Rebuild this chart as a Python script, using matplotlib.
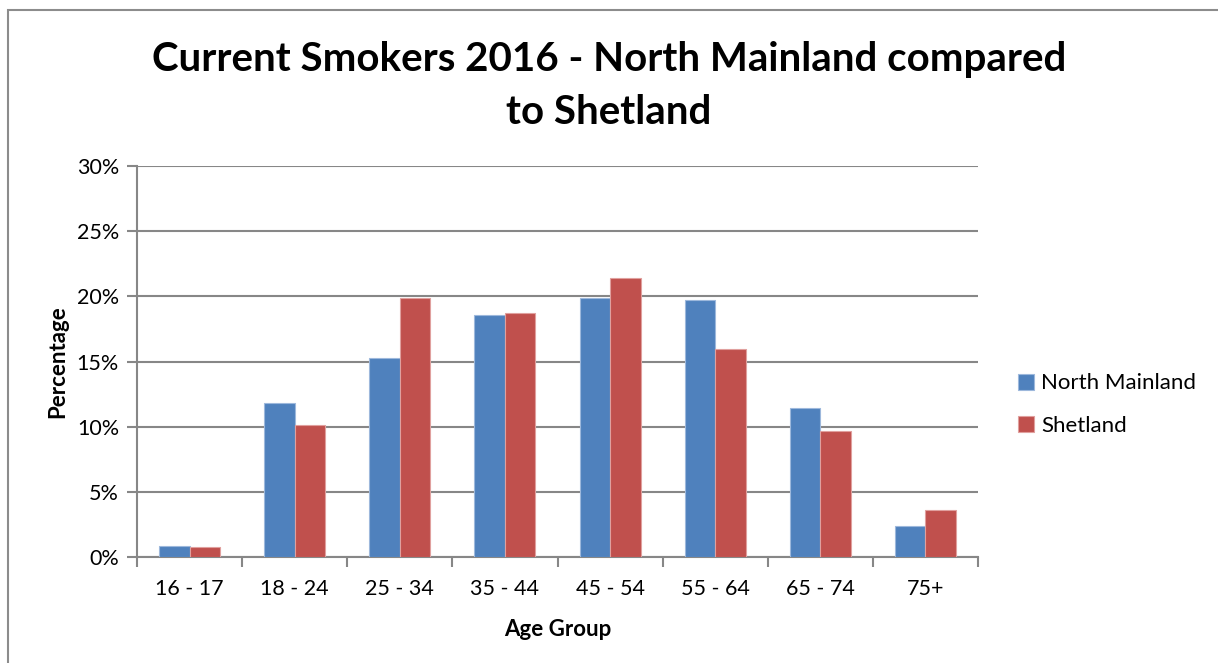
import matplotlib.pyplot as plt
import numpy as np
from matplotlib.patches import Rectangle

# current smokers by age group (%)
age_groups = ['16 - 17', '18 - 24', '25 - 34', '35 - 44', '45 - 54', '55 - 64', '65 - 74', '75+']
north_mainland = [0.87, 11.8, 15.25, 18.6, 19.9, 19.7, 11.45, 2.4]
shetland = [0.74, 10.1, 19.9, 18.75, 21.4, 15.95, 9.65, 3.63]

blue = '#4F81BD'
red = '#C0504D'
grey = '#878787'

plt.rcParams['font.family'] = ['Lato', 'DejaVu Sans']

fig = plt.figure(figsize=(12.18, 6.63), dpi=100)
W, H = 1218, 663
# axes placed in pixel terms: left 137, right 978, top 166, bottom 557
ax = fig.add_axes([137 / W, 1 - 557 / H, (978 - 137) / W, (557 - 166) / H])

# outer chart border
fig.patches.append(Rectangle((8 / W, -0.1), 1.2, 1 - 10 / H + 0.1, transform=fig.transFigure,
                             fill=False, edgecolor='#8c8c8c', linewidth=1.5))

x = np.arange(len(age_groups))
w = 0.29
ax.bar(x - w / 2, north_mainland, w, color=blue, edgecolor='#9db8dc', linewidth=0.8,
       label='North Mainland', zorder=3)
ax.bar(x + w / 2, shetland, w, color=red, edgecolor='#e0a09e', linewidth=0.8,
       label='Shetland', zorder=3)

ax.set_xlim(-0.5, len(age_groups) - 0.5)
ax.set_ylim(0, 30)
ax.set_yticks(np.arange(0, 31, 5))
ax.set_yticklabels([f'{v}%' for v in range(0, 31, 5)], fontsize=15.5)
ax.yaxis.grid(True, color=grey, linewidth=1.5, zorder=0)
ax.set_axisbelow(True)

# category labels centred, ticks between categories
ax.set_xticks(x)
ax.set_xticklabels(age_groups, fontsize=15.5)
ax.tick_params(axis='x', which='major', length=0, pad=16)
ax.set_xticks(np.arange(-0.5, len(age_groups)), minor=True)
ax.tick_params(axis='x', which='minor', length=7, width=1.5, color=grey)
ax.tick_params(axis='y', length=7, width=1.5, color=grey, pad=6)

for side in ['top', 'right']:
    ax.spines[side].set_visible(False)
for side in ['left', 'bottom']:
    ax.spines[side].set_color(grey)
    ax.spines[side].set_linewidth(1.5)

ax.set_xlabel('Age Group', fontsize=16, fontweight='bold', labelpad=14)
ax.set_ylabel('Percentage', fontsize=16, fontweight='bold', labelpad=6)

fig.text(0.5, 1 - 86 / H, 'Current Smokers 2016 - North Mainland compared\nto Shetland',
         ha='center', va='center', fontsize=29, fontweight='bold', linespacing=1.5)

ax.legend(loc='center left', bbox_to_anchor=(1.047, 0.39), frameon=False, fontsize=16,
          handlelength=0.75, handleheight=0.75, handletextpad=0.3, labelspacing=1.0,
          borderpad=0, borderaxespad=0)

fig.savefig('out.png', dpi=100)
